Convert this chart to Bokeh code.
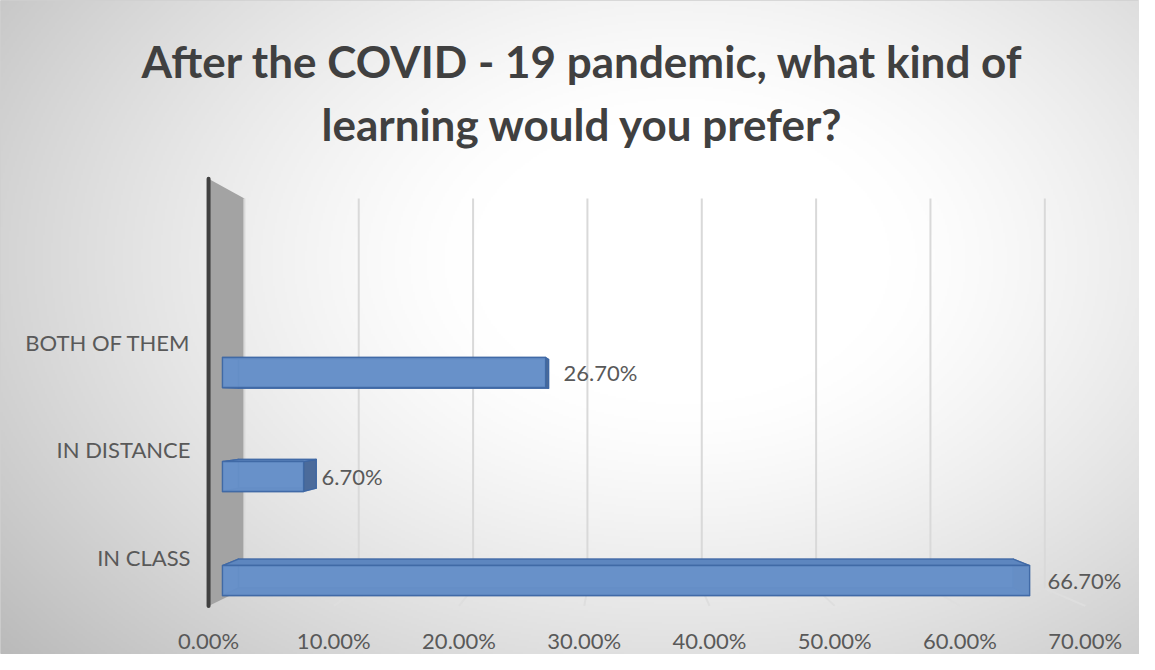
import numpy as np
from bokeh.plotting import figure
from bokeh.models import Range1d, ColumnDataSource
from bokeh.embed import file_html
from bokeh.resources import INLINE
from bokeh.core.properties import value

# ---------------- data ----------------
categories = ["IN CLASS", "IN DISTANCE", "BOTH OF THEM"]
shares = [0.667, 0.067, 0.267]
share_labels = ["66.70%", "6.70%", "26.70%"]
tick_values = [0.0, 0.1, 0.2, 0.3, 0.4, 0.5, 0.6, 0.7]
tick_labels = ["0.00%", "10.00%", "20.00%", "30.00%", "40.00%", "50.00%", "60.00%", "70.00%"]
title_lines = ["After the COVID - 19 pandemic, what kind of", "learning would you prefer?"]

# ---------------- layout helpers ----------------
W, H = 1139, 654
X0_PX, X_SCALE = 222, 1210   # pixel of value 0 on the bar front plane, px per unit
Y0_PX, Y_SCALE = 580, 104    # pixel of category 0 centre, px per category step


def rx(px):
    return (px - X0_PX) / X_SCALE


def ry(py):
    return (Y0_PX - py) / Y_SCALE


# simple perspective projection (vanishing point, depth scale s)
X_VP, Y_VP = rx(620), ry(405)


def proj(x, y, s):
    x = np.asarray(x, dtype=float)
    y = np.asarray(y, dtype=float)
    return X_VP + (x - X_VP) * s, Y_VP + (y - Y_VP) * s


S_BAR_FRONT, S_BAR_BACK, S_WALL, S_FRONT = 1.0, 0.96, 0.945, 1.035
FLOOR, TOP, HALF = -0.179, 3.789, 0.144
FONT = value("Lato")

p = figure(width=W, height=H, output_backend="svg", toolbar_location=None,
           x_range=Range1d(rx(0), rx(W)),
           y_range=Range1d(ry(H), ry(0)),
           x_axis_location=None, y_axis_location=None, min_border=0)
p.grid.visible = False
p.outline_line_color = "#d0d0d0"
p.outline_line_width = 1
p.background_fill_color = "#ffffff"
p.border_fill_color = "#ffffff"

# ---------------- background radial gradient ----------------
hi, wi = H // 2, W // 2
jj = np.arange(wi)
ii = np.arange(hi)
pxs = (jj + 0.5) * W / wi
pys = H - (ii + 0.5) * H / hi
PX, PY = np.meshgrid(pxs, pys)
r = np.sqrt(((PX - 680) / 700.0) ** 2 + ((PY - 260) / 480.0) ** 2)
shade = 255 - 72 * np.clip(r - 0.3, 0, None) ** 1.3
shade = np.clip(shade, 0, 255).astype(np.uint8)
rgba = np.zeros((hi, wi, 4), dtype=np.uint8)
rgba[..., 0] = shade
rgba[..., 1] = shade
rgba[..., 2] = shade
rgba[..., 3] = 255
img = rgba.view(dtype=np.uint32).reshape((hi, wi))
p.image_rgba(image=[img], x=rx(0), y=ry(H), dw=rx(W) - rx(0), dh=ry(0) - ry(H))

# ---------------- side wall ----------------
wx = [proj(0, FLOOR, S_FRONT)[0], proj(0, TOP, S_FRONT)[0], proj(0, TOP, S_WALL)[0], proj(0, FLOOR, S_WALL)[0]]
wy = [proj(0, FLOOR, S_FRONT)[1], proj(0, TOP, S_FRONT)[1], proj(0, TOP, S_WALL)[1], proj(0, FLOOR, S_WALL)[1]]
p.patch([float(v) for v in wx], [float(v) for v in wy], fill_color="#a3a3a3", line_color=None)

# ---------------- gridlines (back wall + floor) ----------------
gx0, gy0 = proj(tick_values, [FLOOR] * len(tick_values), S_WALL)
gx1, gy1 = proj(tick_values, [TOP] * len(tick_values), S_WALL)
p.segment(x0=gx0, y0=gy0, x1=gx1, y1=gy1, line_color="#d9d9d9", line_width=2)
fx1, fy1 = proj(tick_values, [FLOOR] * len(tick_values), S_FRONT)
p.segment(x0=gx0[1:], y0=gy0[1:], x1=fx1[1:], y1=fy1[1:], line_color="#dedede", line_width=2)

# axis line at the front edge of the wall
ax0, ay0 = proj(0, FLOOR, S_FRONT)
ax1, ay1 = proj(0, TOP, S_FRONT)
p.segment(x0=[float(ax0)], y0=[float(ay0)], x1=[float(ax1)], y1=[float(ay1)],
          line_color="#404040", line_width=4, line_cap="round")

# ---------------- 3D bars ----------------
xs, ys, fills, alphas = [], [], [], []
for i, v in enumerate(shares):
    yb, yt = i - HALF, i + HALF

    def corner(x, y, s):
        cx, cy = proj(x, y, s)
        return float(cx), float(cy)

    F = [corner(0, yb, S_BAR_FRONT), corner(v, yb, S_BAR_FRONT), corner(v, yt, S_BAR_FRONT), corner(0, yt, S_BAR_FRONT)]
    B = [corner(0, yb, S_BAR_BACK), corner(v, yb, S_BAR_BACK), corner(v, yt, S_BAR_BACK), corner(0, yt, S_BAR_BACK)]
    faces = [
        (B, "#5a82ba", 1.0),                              # back
        ([F[0], F[1], B[1], B[0]], "#4f77ae", 1.0),       # bottom
        ([F[0], F[3], B[3], B[0]], "#5a82ba", 1.0),       # left
        ([F[1], F[2], B[2], B[1]], "#4b6b9b", 1.0),       # right
        ([F[3], F[2], B[2], B[3]], "#5d86bf", 1.0),       # top
        (F, "#6a93cb", 0.88),                             # front
    ]
    for pts, c, a in faces:
        xs.append([q[0] for q in pts])
        ys.append([q[1] for q in pts])
        fills.append(c)
        alphas.append(a)

src = ColumnDataSource(dict(xs=xs, ys=ys, fill=fills, alpha=alphas))
p.patches(xs="xs", ys="ys", fill_color="fill", fill_alpha="alpha", source=src,
          line_color="#3d66a3", line_width=1.3, line_alpha=0.85, line_join="round")

# ---------------- texts ----------------
# value labels
p.text(x=shares, y=list(range(len(shares))), text=share_labels, x_offset=18,
       text_font=FONT, text_font_size="22px", text_color="#595959",
       text_align="left", text_baseline="middle")

# category labels (sit slightly above each bar, as on the projected wall)
p.text(x=[rx(190)] * len(categories), y=[i + 0.22 + 0.035 * i for i in range(len(categories))], text=categories,
       text_font=FONT, text_font_size="22px", text_color="#595959",
       text_align="right", text_baseline="middle")

# value-axis tick labels along the floor front
tx, _ = proj(tick_values, [FLOOR] * len(tick_values), S_FRONT)
p.text(x=tx, y=[ry(640)] * len(tick_values), text=tick_labels,
       text_font=FONT, text_font_size="22px", text_color="#595959",
       text_align="center", text_baseline="middle")

# title
p.text(x=[rx(582), rx(582)], y=[ry(60), ry(123)], text=title_lines,
       text_font=FONT, text_font_size="44px", text_font_style="bold", text_color="#404040",
       text_align="center", text_baseline="middle")

open("out.html", "w").write(file_html(p, INLINE))
